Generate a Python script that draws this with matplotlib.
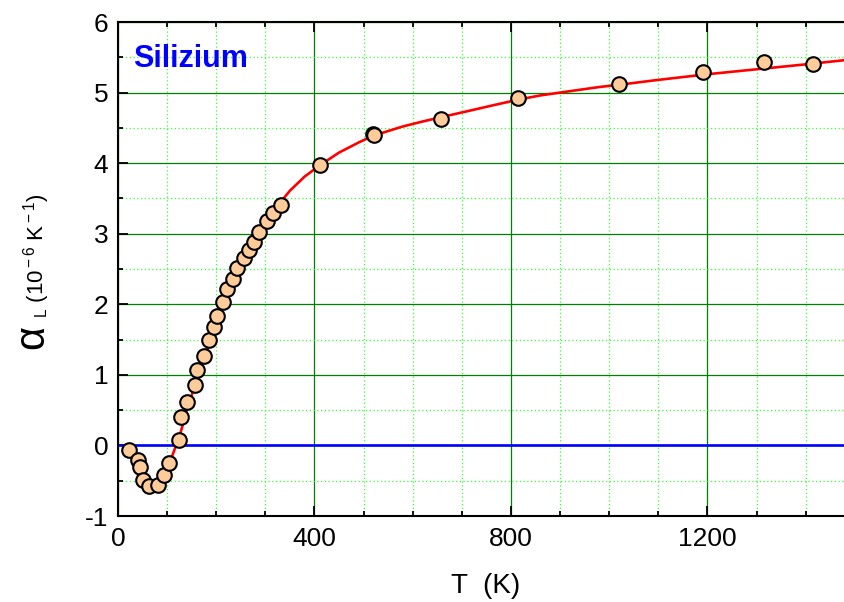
import matplotlib
matplotlib.use("Agg")
import matplotlib.pyplot as plt
from matplotlib.ticker import MultipleLocator

plt.rcParams['font.family'] = ['Liberation Sans', 'DejaVu Sans']
plt.rcParams['mathtext.fontset'] = 'custom'
plt.rcParams['mathtext.rm'] = 'Liberation Sans'
plt.rcParams['mathtext.it'] = 'Liberation Sans:italic'
plt.rcParams['mathtext.bf'] = 'Liberation Sans:bold'
plt.rcParams['axes.unicode_minus'] = False

# measured data points (T in K, alpha in 1e-6 /K)
T_meas = [23, 40, 45, 50, 63, 82, 94, 103, 124, 128, 141, 157, 160, 175, 185, 195,
          201, 213, 222, 235, 243, 257, 266, 276, 287, 303, 316, 332,
          411, 519, 522, 657, 814, 1020, 1190, 1316, 1415]
a_meas = [-0.07, -0.21, -0.31, -0.49, -0.58, -0.56, -0.42, -0.25, 0.08, 0.40, 0.62,
          0.86, 1.07, 1.27, 1.49, 1.68, 1.83, 2.03, 2.21, 2.36, 2.52, 2.66, 2.77,
          2.88, 3.02, 3.18, 3.30, 3.41, 3.97, 4.42, 4.40, 4.62, 4.93, 5.12, 5.29,
          5.43, 5.40]

# fitted curve
T_fit = [95, 105, 115, 125, 140, 160, 180, 200, 220, 240, 260, 280, 300, 330, 350,
         380, 411, 450, 492, 520, 580, 620, 657, 720, 770, 815, 860, 900, 981, 1020,
         1100, 1200, 1300, 1400, 1480]
a_fit = [-0.42, -0.25, -0.06, 0.12, 0.50, 0.92, 1.33, 1.73, 2.10, 2.43, 2.72, 2.96,
         3.17, 3.44, 3.61, 3.81, 3.97, 4.15, 4.30, 4.39, 4.52, 4.59, 4.65, 4.75,
         4.83, 4.90, 4.96, 5.00, 5.08, 5.11, 5.18, 5.26, 5.33, 5.40, 5.46]

x_ticks = [0, 400, 800, 1200]
y_ticks = [-1, 0, 1, 2, 3, 4, 5, 6]

fig = plt.figure(figsize=(8.45, 6.02), dpi=100)
ax = fig.add_axes([118/845, 1 - 516/602, 1 - 118/845, (516 - 22)/602])

ax.set_xlim(0, 1480)
ax.set_ylim(-1, 6)
ax.set_xticks(x_ticks)
ax.set_yticks(y_ticks)
ax.xaxis.set_minor_locator(MultipleLocator(100))
ax.yaxis.set_minor_locator(MultipleLocator(0.5))

ax.set_axisbelow(True)
ax.grid(which='major', color='#008000', lw=0.9, ls='-')
ax.grid(which='minor', color='#33ff33', lw=0.9, ls=(0, (1, 2)))

ax.axhline(0, color='#0000ff', lw=1.9, zorder=2)
ax.plot(T_fit, a_fit, color='#ff0000', lw=1.9, zorder=3)
ax.plot(T_meas, a_meas, ls='none', marker='o', ms=10.5, mfc='#ffcc99',
        mec='black', mew=1.5, zorder=4)

for s in ['left', 'bottom', 'top']:
    ax.spines[s].set_linewidth(1.5)
ax.spines['right'].set_visible(False)

ax.tick_params(which='both', direction='in', top=True, right=False, width=1.3,
               labelsize=19)
ax.tick_params(which='major', length=7)
ax.tick_params(which='minor', length=3.5)
ax.tick_params(axis='x', pad=8)
ax.tick_params(axis='y', pad=7)

fig.text(133/845, 1 - 59/602, 'Silizium', color='#0000ff', fontsize=22,
         fontweight='bold', va='center', ha='left')

fig.text(486/845, 1 - 593/602, 'T  (K)', ha='center', va='baseline', fontsize=20)

fig.text(43/845, 1 - 349/602, 'α', rotation=90, rotation_mode='anchor',
         ha='left', va='baseline', fontsize=30)
fig.text(44/845, 1 - 318/602, r'$_{\rm L}$ (10$^{\rm -6}$ K$^{\rm -1}$)', rotation=90,
         rotation_mode='anchor', ha='left', va='baseline', fontsize=16)

fig.savefig('out.png', dpi=100)
